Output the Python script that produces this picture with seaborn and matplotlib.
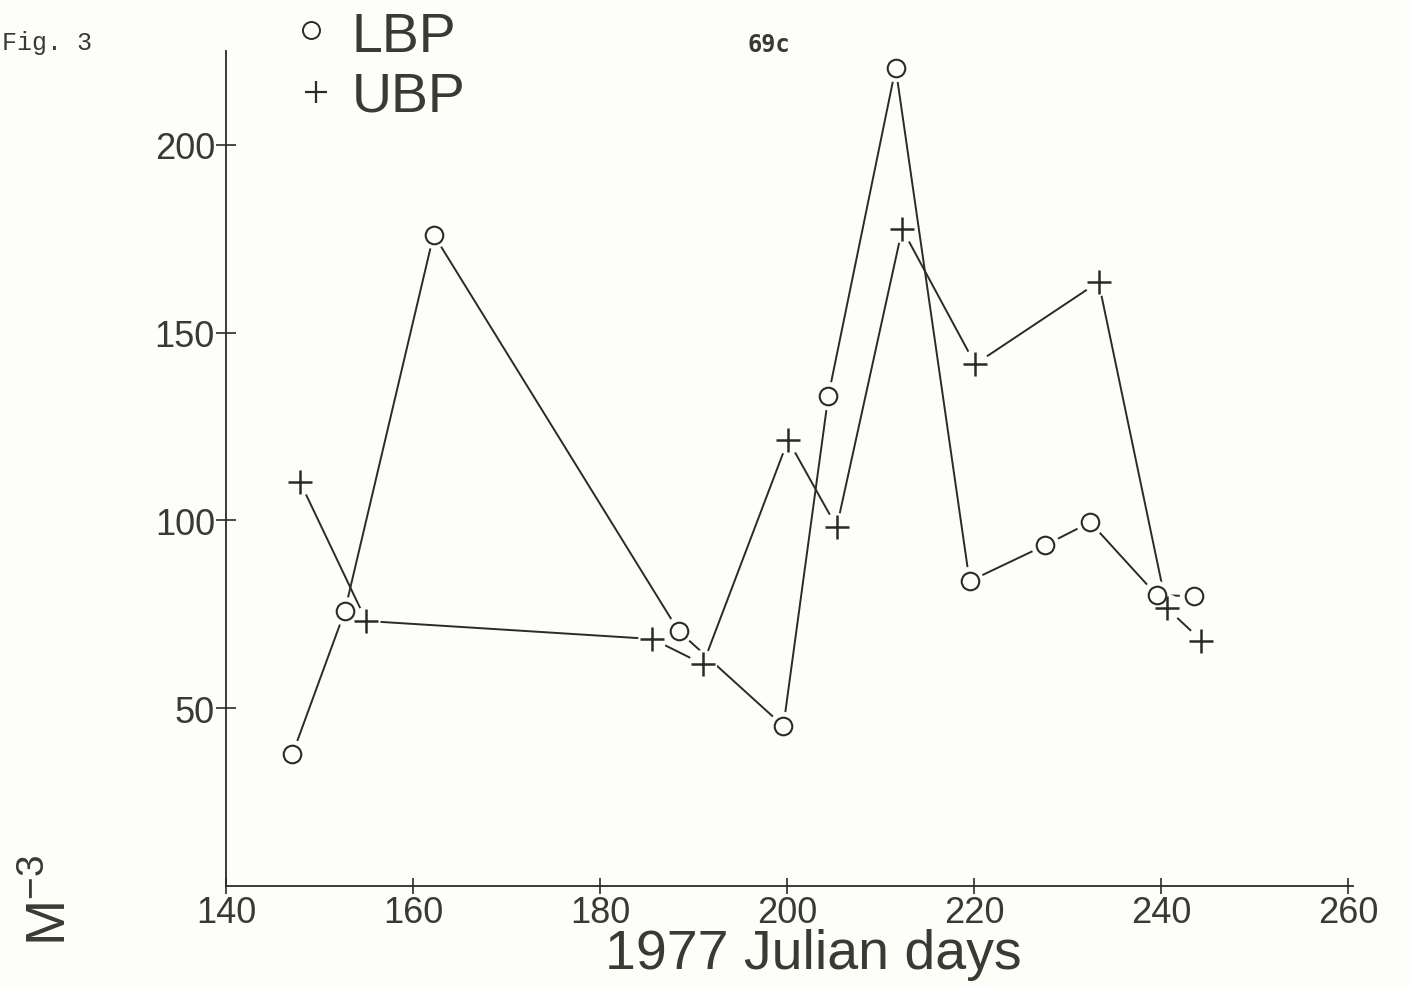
import matplotlib
matplotlib.use("Agg")
import matplotlib.pyplot as plt
import seaborn as sns
import pandas as pd

# Julian day of each sample and the abundance (per cubic metre)
lbp_days = [147.1, 152.7, 162.2, 188.4, 199.6, 204.4, 211.6, 219.5, 227.6, 232.4, 239.5, 243.5]
lbp_vals = [37.7, 75.8, 176.1, 70.5, 45.2, 133.1, 220.5, 83.8, 93.4, 99.5, 80.1, 79.8]

ubp_days = [147.9, 155.0, 185.6, 191.0, 200.1, 205.3, 212.3, 220.1, 233.3, 240.6, 244.3]
ubp_vals = [110.3, 73.2, 68.4, 61.7, 121.4, 98.2, 177.6, 141.6, 163.5, 76.6, 68.0]

x_ticks = [140, 160, 180, 200, 220, 240, 260]
y_ticks = [50, 100, 150, 200]

df = pd.concat([
    pd.DataFrame({"day": lbp_days, "value": lbp_vals, "series": "LBP"}),
    pd.DataFrame({"day": ubp_days, "value": ubp_vals, "series": "UBP"}),
], ignore_index=True)

ink = "#2b2b26"
text_ink = "#3a3a33"
paper = "#fdfdf9"

sns.set_style("ticks")
plt.rcParams["font.family"] = ["Liberation Sans", "DejaVu Sans"]

fig = plt.figure(figsize=(14.10, 9.87), dpi=100, facecolor=paper)
ax = fig.add_axes([226 / 1410, 1 - 886.7 / 987, (1353 - 226) / 1410, (886.7 - 52) / 987])
ax.set_facecolor(paper)

# connecting lines
for name in ["LBP", "UBP"]:
    sub = df[df["series"] == name]
    sns.lineplot(data=sub, x="day", y="value", ax=ax, color=ink, linewidth=1.4,
                 sort=False, estimator=None, zorder=2)

# white halo leaves a small gap between each line and its marker
sns.scatterplot(data=df, x="day", y="value", ax=ax, marker="o", s=420,
                color=paper, edgecolor="none", linewidth=0, zorder=3)

lbp = df[df["series"] == "LBP"]
ubp = df[df["series"] == "UBP"]
sns.scatterplot(data=lbp, x="day", y="value", ax=ax, marker="o", s=160,
                facecolor=paper, edgecolor=ink, linewidth=1.5, zorder=4)
sns.scatterplot(data=ubp, x="day", y="value", ax=ax, marker="+", s=300,
                color=ink, linewidth=1.8, zorder=4)

ax.set_xlim(140, 260.5)
ax.set_ylim(2.7, 225)
ax.set_xticks(x_ticks)
ax.set_yticks(y_ticks)
ax.set_xticklabels([str(t) for t in x_ticks])
ax.set_yticklabels([str(t) for t in y_ticks])
ax.tick_params(axis="both", direction="inout", length=14, width=1.2, color=ink,
               labelsize=26, labelcolor=text_ink, pad=1)
ax.tick_params(axis="x", length=12)
for side in ["top", "right"]:
    ax.spines[side].set_visible(False)
for side in ["left", "bottom"]:
    ax.spines[side].set_color(ink)
    ax.spines[side].set_linewidth(1.3)

ax.set_xlabel("")
ax.set_ylabel("")
fig.text(813 / 1410, 1 - 969 / 987, "1977 Julian days", ha="center", va="baseline",
         fontsize=40, color=text_ink)
fig.text(52 / 1410, 1 - 900 / 987, r"M$^{\mathregular{-3}}$", rotation=90,
         ha="center", va="center", fontsize=40, color=text_ink)

# key
ax.scatter([311 / 1410], [1 - 31 / 987], transform=fig.transFigure, marker="o", s=150,
           facecolor=paper, edgecolor=ink, linewidth=1.4, clip_on=False, zorder=5)
fig.text(352 / 1410, 1 - 52 / 987, "LBP", ha="left", va="baseline", fontsize=40, color=text_ink)
ax.scatter([316 / 1410], [1 - 93 / 987], transform=fig.transFigure, marker="+", s=260,
           color=ink, linewidth=1.6, clip_on=False, zorder=5)
fig.text(352 / 1410, 1 - 112 / 987, "UBP", ha="left", va="baseline", fontsize=40, color=text_ink)

fig.text(2 / 1410, 1 - 43 / 987, "Fig. 3", ha="left", va="center", fontsize=18,
         family="Liberation Mono", color=text_ink)
fig.text(769 / 1410, 1 - 45 / 987, "69c", ha="center", va="center", fontsize=17,
         family="DejaVu Sans Mono", weight="bold", color=text_ink)

fig.savefig("out.png", dpi=100, facecolor=paper)
